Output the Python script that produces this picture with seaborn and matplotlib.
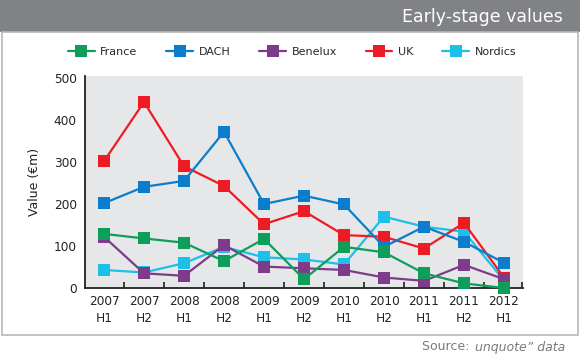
import matplotlib
matplotlib.use("Agg")
import matplotlib.pyplot as plt
from matplotlib.patches import Rectangle
import seaborn as sns
import pandas as pd
import numpy as np

periods = ["2007\nH1", "2007\nH2", "2008\nH1", "2008\nH2", "2009\nH1", "2009\nH2",
           "2010\nH1", "2010\nH2", "2011\nH1", "2011\nH2", "2012\nH1"]
france = [129, 118, 108, 64, 117, 21, 98, 85, 35, 11, 0]
dach = [202, 241, 255, 372, 200, 220, 199, 98, 146, 110, 60]
benelux = [122, 35, 29, 102, 51, 47, 43, 25, 17, 55, 21]
uk = [302, 443, 290, 243, 152, 183, 126, 122, 94, 155, 25]
nordics = [43, 37, 59, 98, 73, 68, 56, 170, 146, 134, 18]

series_names = ["France", "DACH", "Benelux", "UK", "Nordics"]
series_values = [france, dach, benelux, uk, nordics]
colors = {"France": "#0f9d5a", "DACH": "#0b7dcc", "Benelux": "#7d3b8a",
          "UK": "#ed1c24", "Nordics": "#1cc0e8"}
zorders = {"France": 7, "DACH": 5, "Benelux": 6, "UK": 4, "Nordics": 3}

rows = []
for name, vals in zip(series_names, series_values):
    for i, v in enumerate(vals):
        rows.append({"series": name, "idx": i, "value": v})
df = pd.DataFrame(rows)

sns.set_theme(style="white")
plt.rcParams["font.family"] = ["DejaVu Sans"]

fig = plt.figure(figsize=(5.8, 3.58), dpi=100)
W, H = 580, 358

# header bar and panel
fig.patches.append(Rectangle((0, 1 - 32 / H), 1, 32 / H, transform=fig.transFigure,
                             facecolor="#808285", edgecolor="none", zorder=-2))
fig.patches.append(Rectangle((2 / W, 1 - 335 / H), 576 / W, 303 / H, transform=fig.transFigure,
                             facecolor="white", edgecolor="#b8b8b8", linewidth=1.2, zorder=-2))
fig.text(563 / W, 1 - 17 / H, "Early-stage values", color="white", fontsize=12.5,
         ha="right", va="center")

ax = fig.add_axes([85 / W, 1 - 288 / H, 438 / W, 212 / H])
ax.set_facecolor("#e6e7e8")

for name in series_names:
    sub = df[df["series"] == name]
    sns.lineplot(data=sub, x="idx", y="value", ax=ax, color=colors[name], marker="s",
                 markersize=9, markeredgewidth=0, linewidth=1.6, sort=False,
                 label=name, zorder=zorders[name], clip_on=False)

ax.set_xlim(-0.475, 10.475)
ax.set_ylim(0, 505)
ax.set_xticks(range(len(periods)))
ax.set_xticklabels(periods, fontsize=8.7, color="#222222", linespacing=1.45)
ax.set_xticks(list(np.arange(0.5, 10.5, 1.0)) + [10.46], minor=True)
ax.tick_params(axis="x", which="major", length=0, pad=5, bottom=True)
ax.tick_params(axis="x", which="minor", direction="in", length=4, width=1.2,
               color="#222222", bottom=True)
ax.set_yticks([0, 100, 200, 300, 400, 500])
ax.set_yticklabels(["0", "100", "200", "300", "400", "500"], fontsize=8.7, color="#222222")
ax.tick_params(axis="y", length=0, pad=6)
ax.set_xlabel("")
ax.set_ylabel("Value (€m)", fontsize=9, color="#222222", labelpad=9)
for s in ["top", "right"]:
    ax.spines[s].set_visible(False)
for s in ["left", "bottom"]:
    ax.spines[s].set_color("#222222")
    ax.spines[s].set_linewidth(1.3)

handles, labels = ax.get_legend_handles_labels()
ax.legend(handles, labels, loc="center", bbox_to_anchor=(292 / W, 1 - 52 / H),
          bbox_transform=fig.transFigure, ncol=5, frameon=False, fontsize=8,
          handlelength=2.4, columnspacing=2.6, handletextpad=0.5)

# source line
fig.canvas.draw()
r = fig.canvas.get_renderer()
t2 = fig.text(565 / W, 1 - 347 / H, "unquote\u201d data", fontsize=9, style="italic",
              color="#7a7a7a", ha="right", va="center")
bb = t2.get_window_extent(r)
fig.text((bb.x0 - 1) / W, 1 - 347 / H, "Source: ", fontsize=9, color="#7a7a7a",
         ha="right", va="center")

fig.savefig("out.png", dpi=100)
